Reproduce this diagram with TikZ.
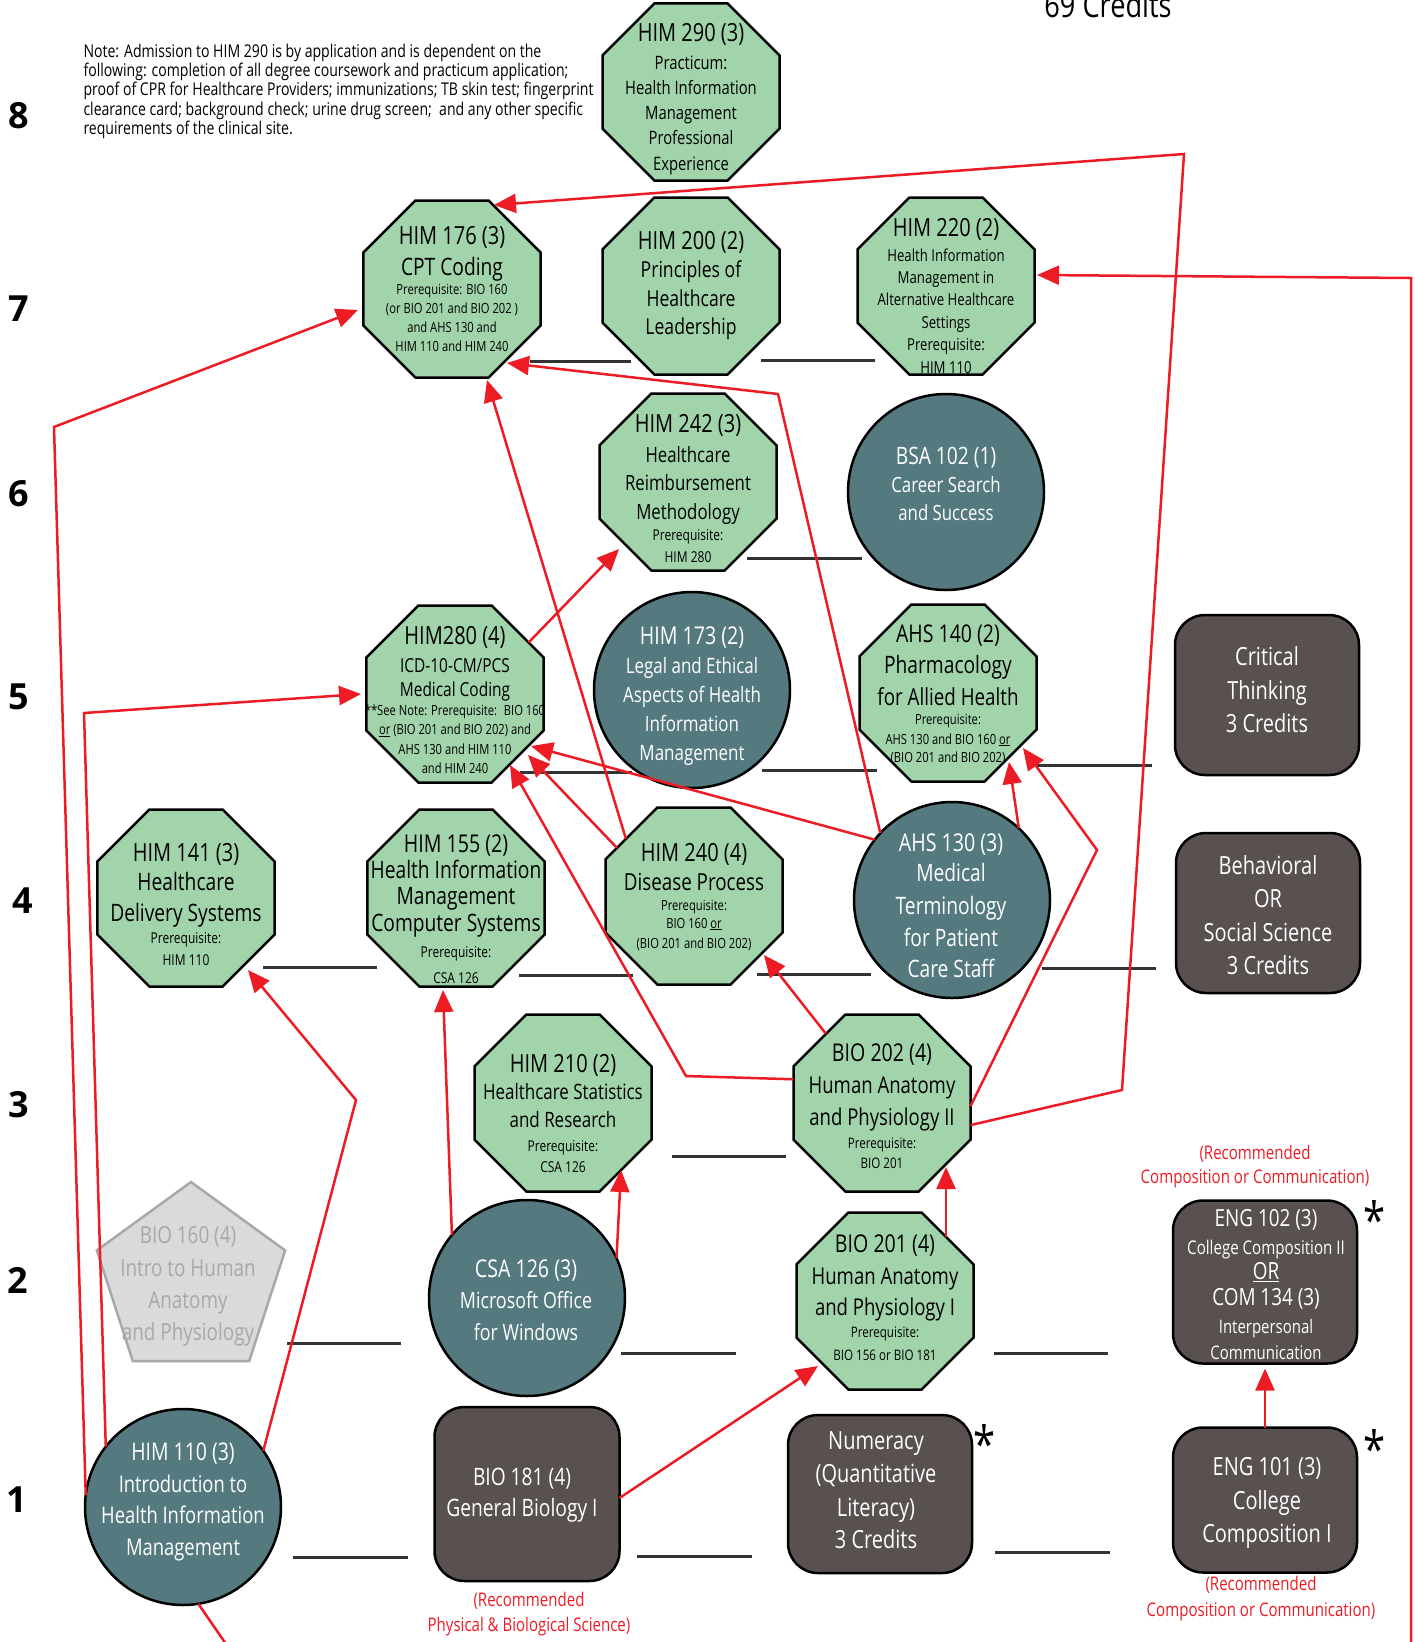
\documentclass[tikz,border=0pt]{standalone}
\usepackage{fontspec}
\setmainfont{Open Sans}[FakeStretch=0.8]
\newfontfamily\rowfont{Open Sans}
\usetikzlibrary{shapes.geometric,arrows.meta,calc}

\definecolor{octfill}{RGB}{162,212,171}
\definecolor{tealc}{RGB}{84,122,128}
\definecolor{brownc}{RGB}{89,80,80}
\definecolor{grayfill}{RGB}{217,218,218}
\definecolor{grayline}{RGB}{168,168,168}
\definecolor{redc}{RGB}{237,28,36}
\definecolor{darkline}{RGB}{51,51,51}

% one centred line of a stack: size, gap to next baseline, text
\newcommand\cLine[3]{\setbox0=\hbox to 0pt{\hss\fontsize{#1}{#1}\selectfont #3\hss}\ht0=0pt \dp0=0pt \box0 \vskip#2pt\relax}
% one left-aligned line
\newcommand\lLine[3]{\setbox0=\hbox to 0pt{\fontsize{#1}{#1}\selectfont #3\hss}\ht0=0pt \dp0=0pt \box0 \vskip#2pt\relax}
\newcommand\cStack[1]{\vbox{\offinterlineskip #1}}

\tikzset{
 oct/.style={regular polygon, regular polygon sides=8, minimum size=191.6pt, inner sep=0pt, outer sep=0pt, draw=black, line width=2.5pt, fill=octfill},
 circ/.style={circle, minimum size=196pt, inner sep=0pt, outer sep=0pt, draw=black, line width=2.5pt, fill=tealc},
 rbox/.style={rectangle, rounded corners=30pt, inner sep=0pt, outer sep=0pt, draw=black, line width=2.5pt, fill=brownc, minimum width=184pt},
 pent/.style={regular polygon, regular polygon sides=5, minimum size=198pt, inner sep=0pt, outer sep=0pt, draw=grayline, line width=2.5pt, fill=grayfill},
 lbl/.style={anchor=north, inner sep=0pt, outer sep=0pt, text=black},
 wlbl/.style={lbl, text=white},
 rlbl/.style={lbl, text=redc},
 glbl/.style={lbl, text=grayline},
 rownum/.style={inner sep=0pt, font=\rowfont\bfseries\fontsize{36}{36}\selectfont},
 starmark/.style={inner sep=0pt, anchor=base, font=\fontsize{50}{50}\selectfont},
 req/.style={draw=redc, line width=2.5pt, -{Triangle[length=22pt,width=19pt]}},
 reqline/.style={draw=redc, line width=2.5pt},
 blank/.style={draw=darkline, line width=3pt},
}

\begin{document}
\begin{tikzpicture}[x=1pt,y=-1pt]
\useasboundingbox (0,0) rectangle (1415,1642);

% ---------- shapes ----------
\node[oct] (o290) at (691,92) {};
\node[oct] (o176) at (452,289) {};
\node[oct] (o200) at (691,286) {};
\node[oct] (o220) at (946,286) {};
\node[oct] (o242) at (688,482) {};
\node[oct] (o280) at (455,694) {};
\node[oct] (o140) at (948,693) {};
\node[oct] (o141) at (186,898) {};
\node[oct] (o155) at (456,898) {};
\node[oct] (o240) at (694,896) {};
\node[oct] (o210) at (563,1103) {};
\node[oct] (o202) at (882,1103) {};
\node[oct] (o201) at (885,1301) {};
\node[circ] (c102) at (946,492) {};
\node[circ] (c173) at (692,690) {};
\node[circ] (c130) at (952,900) {};
\node[circ] (c126) at (527,1298) {};
\node[circ] (c110) at (183,1507) {};
\node[rbox, minimum height=160pt] (bCT) at (1267,695) {};
\node[rbox, minimum height=160pt] (bBeh) at (1268,913) {};
\node[rbox, minimum height=163pt] (b102) at (1265,1282) {};
\node[rbox, minimum height=145pt] (b101) at (1265,1500) {};
\node[rbox, minimum height=158pt] (bNum) at (880,1494) {};
\node[rbox, minimum height=174pt, minimum width=185pt] (b181) at (527,1494) {};
\node[pent] (p160) at (191,1281) {};

% ---------- texts ----------
\node[lbl] (t290) at (691,41) {\cStack{\cLine{25}{28}{HIM 290 (3)}\cLine{18.5}{25.3}{Practicum:}\cLine{18.5}{25.3}{Health Information}\cLine{18.5}{25.3}{Management}\cLine{18.5}{25.3}{Professional}\cLine{18.5}{0}{Experience}}};
\node[lbl] (t176) at (452,244) {\cStack{\cLine{25}{31}{HIM 176 (3)}\cLine{24}{19}{CPT Coding}\cLine{14}{19.3}{Prerequisite: BIO 160}\cLine{14}{19.3}{(or BIO 201 and BIO 202 )}\cLine{14}{19.3}{and AHS 130 and}\cLine{14}{0}{HIM 110 and HIM 240}}};
\node[lbl] (t200) at (691,249) {\cStack{\cLine{25}{28.5}{HIM 200 (2)}\cLine{22}{28.5}{Principles of}\cLine{22}{28.5}{Healthcare}\cLine{22}{0}{Leadership}}};
\node[lbl] (t220) at (946,236) {\cStack{\cLine{25}{25}{HIM 220 (2)}\cLine{16.5}{22.4}{Health Information}\cLine{16.5}{22.4}{Management in}\cLine{16.5}{22.4}{Alternative Healthcare}\cLine{16.5}{22.4}{Settings}\cLine{16.5}{22.4}{Prerequisite:}\cLine{16.5}{0}{HIM 110}}};
\node[lbl] (t242) at (688,432) {\cStack{\cLine{25}{30}{HIM 242 (3)}\cLine{21}{28.5}{Healthcare}\cLine{21}{29}{Reimbursement}\cLine{21}{21}{Methodology}\cLine{15}{22}{Prerequisite:}\cLine{15}{0}{HIM 280}}};
\node[wlbl] (t102) at (946,464) {\cStack{\cLine{24}{28}{BSA 102 (1)}\cLine{21}{28}{Career Search}\cLine{21}{0}{and Success}}};
\node[lbl] (t280) at (455,644) {\cStack{\cLine{25}{28}{HIM280 (4)}\cLine{19.3}{24}{ICD-10-CM/PCS}\cLine{19.3}{19}{Medical Coding}\cLine{14}{19.5}{**See Note: Prerequisite:~ BIO 160}\cLine{14}{19.5}{\underline{or} (BIO 201 and BIO 202) and}\cLine{14}{19.5}{AHS 130 and HIM 110}\cLine{14}{0}{and HIM 240}}};
\node[wlbl] (t173) at (692,644.5) {\cStack{\cLine{24.5}{29}{HIM 173 (2)}\cLine{21.2}{29}{Legal and Ethical}\cLine{21.2}{29}{Aspects of Health}\cLine{21.2}{29}{Information}\cLine{21.2}{0}{Management}}};
\node[lbl] (t140) at (948,642) {\cStack{\cLine{24.4}{31.5}{AHS 140 (2)}\cLine{24}{32}{Pharmacology}\cLine{23.5}{18.5}{for Allied Health}\cLine{14}{20}{Prerequisite:}\cLine{14}{18}{AHS 130 and BIO 160 \underline{or}}\cLine{14}{0}{(BIO 201 and BIO 202)}}};
\node[wlbl] (tCT) at (1267,665) {\cStack{\cLine{25}{34}{Critical}\cLine{25}{33}{Thinking}\cLine{25}{0}{3 Credits}}};
\node[wlbl] (tBeh) at (1268,874) {\cStack{\cLine{25}{33}{Behavioral}\cLine{25}{34}{OR}\cLine{25}{33}{Social Science}\cLine{25}{0}{3 Credits}}};
\node[lbl] (t141) at (186,861) {\cStack{\cLine{25}{29.5}{HIM 141 (3)}\cLine{24}{31}{Healthcare}\cLine{24}{22}{Delivery Systems}\cLine{15}{21.5}{Prerequisite:}\cLine{15}{0}{HIM 110}}};
\node[lbl] (t155) at (456,852) {\cStack{\cLine{24.5}{26.5}{HIM 155 (2)}\cLine{24}{26}{Health Information}\cLine{24}{27}{Management}\cLine{24}{25.5}{Computer Systems}\cLine{15}{26}{Prerequisite:}\cLine{15}{0}{CSA 126}}};
\node[lbl] (t240) at (694,861) {\cStack{\cLine{25}{29.5}{HIM 240 (4)}\cLine{23.5}{19.5}{Disease Process}\cLine{14}{18}{Prerequisite:}\cLine{14}{20}{BIO 160 \underline{or}}\cLine{14}{0}{(BIO 201 and BIO 202)}}};
\node[wlbl] (t130) at (951,851) {\cStack{\cLine{24.5}{30}{AHS 130 (3)}\cLine{24}{33}{Medical}\cLine{24}{32}{Terminology}\cLine{24}{31}{for Patient}\cLine{24}{0}{Care Staff}}};
\node[lbl] (t210) at (563,1072) {\cStack{\cLine{25}{27.5}{HIM 210 (2)}\cLine{21.2}{28}{Healthcare Statistics}\cLine{21.2}{23.5}{and Research}\cLine{15}{21}{Prerequisite:}\cLine{15}{0}{CSA 126}}};
\node[lbl] (t202) at (882,1061) {\cStack{\cLine{24.5}{32.5}{BIO 202 (4)}\cLine{23.2}{32}{Human Anatomy}\cLine{23.2}{22.5}{and Physiology II}\cLine{14.5}{20}{Prerequisite:}\cLine{14.5}{0}{BIO 201}}};
\node[lbl] (t201) at (885,1252) {\cStack{\cLine{24.5}{32.5}{BIO 201 (4)}\cLine{23.2}{31}{Human Anatomy}\cLine{23.2}{21.5}{and Physiology I}\cLine{14.5}{23}{Prerequisite:}\cLine{14.5}{0}{BIO 156 or BIO 181}}};
\node[glbl] (t160) at (188,1243.5) {\cStack{\cLine{23.6}{33}{BIO 160 (4)}\cLine{23.6}{32}{Intro to Human}\cLine{23.6}{32}{Anatomy}\cLine{23.6}{0}{and Physiology}}};
\node[wlbl] (t126) at (526,1277) {\cStack{\cLine{24.5}{31}{CSA 126 (3)}\cLine{22.3}{32}{Microsoft Office}\cLine{22.3}{0}{for Windows}}};
\node[wlbl] (tE102) at (1266,1226.5) {\cStack{\cLine{23.6}{27.5}{ENG 102 (3)}\cLine{18.9}{25.5}{College Composition II}\cLine{23.6}{26}{\underline{OR}}\cLine{23.6}{27.5}{COM 134 (3)}\cLine{18.7}{26}{Interpersonal}\cLine{18.7}{0}{Communication}}};
\node[wlbl] (t110) at (183,1460) {\cStack{\cLine{24.3}{32}{HIM 110 (3)}\cLine{23}{31.5}{Introduction to}\cLine{23}{31.5}{Health Information}\cLine{23}{0}{Management}}};
\node[wlbl] (t181) at (522,1485.5) {\cStack{\cLine{24}{31}{BIO 181 (4)}\cLine{24}{0}{General Biology I}}};
\node[wlbl] (tNum) at (876,1449) {\cStack{\cLine{25}{33}{Numeracy}\cLine{25}{34}{(Quantitative}\cLine{25}{32}{Literacy)}\cLine{25}{0}{3 Credits}}};
\node[wlbl] (tE101) at (1267,1475) {\cStack{\cLine{25}{34}{ENG 101 (3)}\cLine{25}{33}{College}\cLine{25}{0}{Composition I}}};

\node[rlbl] (rec1) at (1255,1159.5) {\cStack{\cLine{18.8}{24}{(Recommended}\cLine{18.8}{0}{Composition or Communication)}}};
\node[rlbl] (rec2) at (1261,1590.5) {\cStack{\cLine{18.8}{26}{(Recommended}\cLine{18.8}{0}{Composition or Communication)}}};
\node[rlbl] (rec3) at (529,1606.5) {\cStack{\cLine{18.8}{25}{(Recommended}\cLine{18.8}{0}{Physical \& Biological Science)}}};

\node[starmark] (st1) at (985,1462) {*};
\node[starmark] (st2) at (1375,1238) {*};
\node[starmark] (st3) at (1375,1467) {*};

\node[lbl, anchor=north west] (note) at (83,57.5) {\cStack{\lLine{17.6}{19.2}{Note: Admission to HIM 290 is by application and is dependent on the}\lLine{17.6}{19.2}{following: completion of all degree coursework and practicum application;}\lLine{17.6}{19.2}{proof of CPR for Healthcare Providers; immunizations; TB skin test; fingerprint}\lLine{17.6}{19.2}{clearance card; background check; urine drug screen;~ and any other specific}\lLine{17.6}{0}{requirements of the clinical site.}}};

\node[anchor=base, inner sep=0pt, font=\fontsize{34}{34}\selectfont] (cred) at (1108,17) {69 Credits};

\node[rownum] (r8) at (19,116) {8};
\node[rownum] (r7) at (19,309) {7};
\node[rownum] (r6) at (19,494) {6};
\node[rownum] (r5) at (19,697) {5};
\node[rownum] (r4) at (23,901) {4};
\node[rownum] (r3) at (19,1105) {3};
\node[rownum] (r2) at (18,1280) {2};
\node[rownum] (r1) at (17,1500) {1};

% ---------- blank lines ----------
\draw[blank] (530,361) -- (631,361);
\draw[blank] (761,360) -- (875,360);
\draw[blank] (747,558) -- (862,558);
\draw[blank] (520,772) -- (632,772);
\draw[blank] (762,770) -- (877,770);
\draw[blank] (1037,765) -- (1152,765);
\draw[blank] (263,967) -- (377,967);
\draw[blank] (519,975) -- (633,975);
\draw[blank] (757,974) -- (871,974);
\draw[blank] (1042,968) -- (1156,968);
\draw[blank] (672,1156) -- (786,1156);
\draw[blank] (287,1343) -- (401,1343);
\draw[blank] (621,1353) -- (736,1353);
\draw[blank] (994,1353) -- (1108,1353);
\draw[blank] (293,1557) -- (408,1557);
\draw[blank] (637,1556) -- (752,1556);
\draw[blank] (995,1552) -- (1110,1552);

% ---------- bend points ----------
\coordinate (kA) at (54,427);
\coordinate (kB) at (84,713);
\coordinate (kC) at (356,1100);
\coordinate (kD) at (237,1660);
\coordinate (kK) at (686,1076);
\coordinate (kO) at (778,394);
\coordinate (kR) at (1097,850);
\coordinate (kS1) at (1122,1090);
\coordinate (kS2) at (1184,154);
\coordinate (kT1) at (1411,1660);
\coordinate (kT2) at (1411,278);

% ---------- prerequisite connectors ----------
\draw[req] (c110.173) -- (kA) -- ($(o176)+(-94,21)$);
\draw[req] (c110.142.6) -- (kB) -- ($(o280)+(-94,0)$);
\draw[req] (c110.35.3) -- (kC) -- ($(o141)+(62,72)$);
\draw[reqline] (c110.-81) -- (kD);
\draw[req] (c126.140.6) -- ($(o155)+(-13,92)$);
\draw[req] (c126.24.5) -- ($(o210)+(58,67)$);
\draw[req] ($(b181.east)+(0,4)$) -- ($(o201)+(-67,65)$);
\draw[req] ($(o201)+(61,-64)$) -- ($(o202)+(64,64)$);
\draw[req] (b101.north) -- ($(b102.south)+(0,5)$);
\draw[req] (o202.129.3) -- ($(o240)+(70,59)$);
\draw[req] (o202.165) -- (kK) -- ($(o280)+(55,71)$);
\draw[req] (o240.148.3) -- ($(o280)+(73,61)$);
\draw[req] (c130.142.5) -- ($(o280)+(76,52)$);
\draw[req] (o240.140.8) -- ($(o176)+(35,91)$);
\draw[req] (c130.137.8) -- (kO) -- ($(o176)+(55,74)$);
\draw[req] (o280.35.6) -- ($(o242)+(-69,67)$);
\draw[req] (c130.47.9) -- ($(o140)+(61,69)$);
\draw[req] (o202.-2.6) -- (kR) -- ($(o140)+(75,55)$);
\draw[req] (o202.-14) -- (kS1) -- (kS2) -- ($(o176)+(42,-84)$);
\draw[req] (kT1) -- (kT2) -- ($(o220)+(91,-11)$);
\end{tikzpicture}
\end{document}
